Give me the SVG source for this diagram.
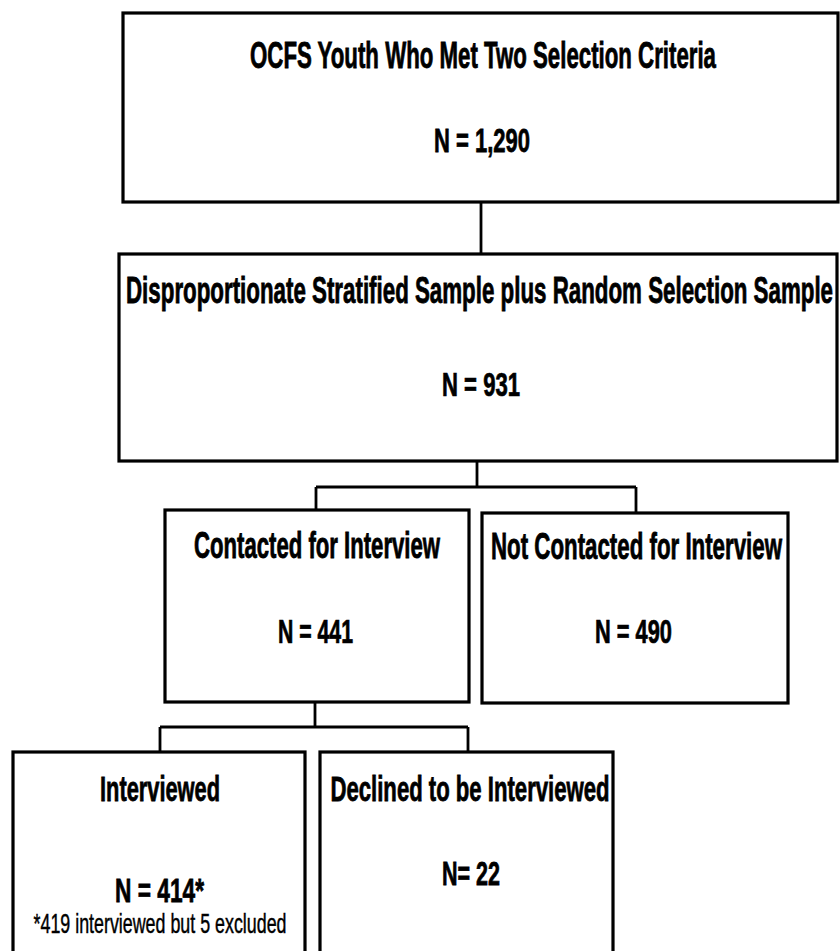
<svg xmlns="http://www.w3.org/2000/svg" width="840" height="951" viewBox="0 0 840 951">
<style>
.box{fill:#fff;stroke:#000;stroke-width:3.2}
.con{fill:none;stroke:#000;stroke-width:2.8}
.h,.n{font-family:"Liberation Sans",Arial,sans-serif;font-weight:bold;font-size:22px;fill:#000;stroke:#000;stroke-width:0.5;text-anchor:middle}
.f{font-family:"Liberation Sans",Arial,sans-serif;font-weight:normal;font-size:18px;fill:#000;stroke:#000;stroke-width:0.3;text-anchor:middle}
</style>
<rect width="840" height="951" fill="#fff"/>
<g id="connectors">
<path class="con" d="M481,202 V254"/>
<path class="con" d="M477,461 V487 M316,487 H636 M316,487 V510 M636,487 V513"/>
<path class="con" d="M315,702 V727 M160,727 H468 M160,727 V752 M468,727 V752"/>
</g>
<g id="node-ocfs">
<rect class="box" x="123" y="13" width="715" height="189"/>
<text class="h" transform="translate(483,68) scale(1,1.68)" textLength="466" lengthAdjust="spacingAndGlyphs">OCFS Youth Who Met Two Selection Criteria</text>
<text class="n" transform="translate(482,152) scale(1,1.5)" textLength="96" lengthAdjust="spacingAndGlyphs">N = 1,290</text>
</g>
<g id="node-sample">
<rect class="box" x="119" y="254" width="718" height="207"/>
<text class="h" transform="translate(479.5,303) scale(1,1.65)" textLength="707" lengthAdjust="spacingAndGlyphs">Disproportionate Stratified Sample plus Random Selection Sample</text>
<text class="n" transform="translate(481,396) scale(1,1.47)" textLength="78" lengthAdjust="spacingAndGlyphs">N = 931</text>
</g>
<g id="node-contacted">
<rect class="box" x="165" y="510" width="304" height="192"/>
<text class="h" transform="translate(317,558) scale(1,1.65)" textLength="246" lengthAdjust="spacingAndGlyphs">Contacted for Interview</text>
<text class="n" transform="translate(315.5,643) scale(1,1.47)" textLength="75" lengthAdjust="spacingAndGlyphs">N = 441</text>
</g>
<g id="node-not-contacted">
<rect class="box" x="482" y="513" width="306" height="190"/>
<text class="h" transform="translate(636.5,559) scale(1,1.65)" textLength="291" lengthAdjust="spacingAndGlyphs">Not Contacted for Interview</text>
<text class="n" transform="translate(633.5,643) scale(1,1.47)" textLength="77" lengthAdjust="spacingAndGlyphs">N = 490</text>
</g>
<g id="node-interviewed">
<rect class="box" x="13" y="752" width="292" height="215"/>
<text class="h" transform="translate(160,801) scale(1,1.6)" textLength="120" lengthAdjust="spacingAndGlyphs">Interviewed</text>
<text class="n" transform="translate(159.5,902) scale(1,1.55)" textLength="89" lengthAdjust="spacingAndGlyphs">N = 414*</text>
<text class="f" transform="translate(160,933) scale(1,1.55)" textLength="253" lengthAdjust="spacingAndGlyphs">*419 interviewed but 5 excluded</text>
</g>
<g id="node-declined">
<rect class="box" x="320" y="752" width="293" height="215"/>
<text class="h" transform="translate(470,801) scale(1,1.6)" textLength="279" lengthAdjust="spacingAndGlyphs">Declined to be Interviewed</text>
<text class="n" transform="translate(471,885) scale(1,1.5)" textLength="58" lengthAdjust="spacingAndGlyphs">N= 22</text>
</g>
</svg>
